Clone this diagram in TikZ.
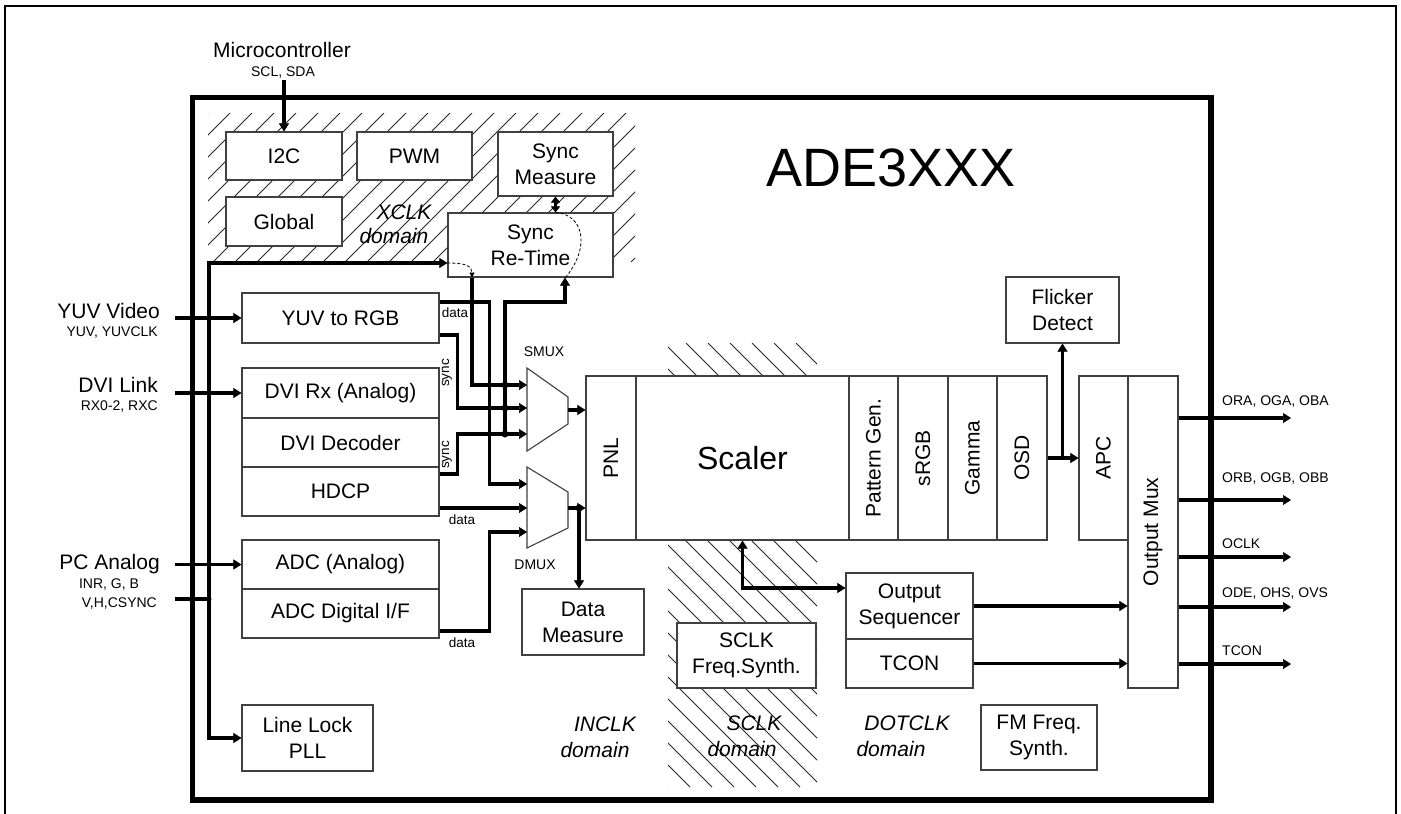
\documentclass[tikz,border=0pt]{standalone}
\usepackage{fontspec}
\setmainfont{Liberation Sans}
\usetikzlibrary{arrows.meta,calc}
\begin{document}
\begin{tikzpicture}[x=1pt,y=-1pt,
  >={Triangle[length=8pt,width=10pt,line width=0.5pt]},
  box/.style={draw=black!75, line width=1.1pt, fill=white, inner sep=0pt, align=center, font=\fontsize{21}{26}\selectfont},
  muxshape/.style={draw=black!75, line width=1.1pt, fill=white},
  wire/.style={line width=3.3pt},
  small/.style={font=\fontsize{14}{19}\selectfont, inner sep=0pt, align=center},
  tiny/.style={font=\fontsize{13.5}{16}\selectfont, inner sep=0pt},
  big/.style={font=\fontsize{21}{26}\selectfont, inner sep=0pt},
  dom/.style={font=\fontsize{21}{26}\selectfont\itshape, inner sep=0pt},
  hatch/.style={line width=0.9pt, black!85},
  dot/.style={circle, fill, inner sep=0pt, minimum size=7pt},
  dashline/.style={dashed, line width=0.8pt, dash pattern=on 3pt off 2pt}
]
\useasboundingbox (0,0) rectangle (1401,814);

% hatched clock domains
\begin{scope}
  \clip (208,113) rectangle (635,262);
  \foreach \i in {0,...,27} \draw[hatch] ({59+\i*22},262) -- ++(149,-149);
\end{scope}
\begin{scope}
  \clip (668,343) rectangle (817,787);
  \foreach \i in {0,...,28} \draw[hatch] ({202+\i*22},343) -- ++(444,444);
\end{scope}

% frames
\draw[line width=2pt] (5,814) -- (5,6) -- (1396,6) -- (1396,814);
\draw[line width=5.5pt] (192.5,97.5) rectangle (1211,800);

\node[font=\fontsize{54}{60}\selectfont, inner sep=0pt] (title) at (891,168) {ADE3XXX};

% XCLK boxes
\node[box, minimum width=116pt, minimum height=48pt] (i2c) at (284,156) {I2C};
\node[box, minimum width=115pt, minimum height=48pt] (pwm) at (414.5,156) {PWM};
\node[box, minimum width=115pt, minimum height=64pt] (syncm) at (555.5,164) {Sync\\Measure};
\node[box, minimum width=116pt, minimum height=49pt] (global) at (284,221.5) {Global};
\node[box, minimum width=165pt, minimum height=64pt] (syncrt) at (530.5,245) {Sync\\Re-Time};

% input blocks
\node[box, minimum width=197pt, minimum height=50pt] (yuv) at (340.5,318) {YUV to RGB};
\node[box, minimum width=197pt, minimum height=50pt] (dvirx) at (340.5,393) {DVI Rx (Analog)};
\node[box, minimum width=197pt, minimum height=49pt] (dvidec) at (340.5,442.5) {DVI Decoder};
\node[box, minimum width=197pt, minimum height=49pt] (hdcp) at (340.5,491.5) {HDCP};
\node[box, minimum width=197pt, minimum height=49pt] (adca) at (340.5,564.5) {ADC (Analog)};
\node[box, minimum width=197pt, minimum height=49pt] (adcd) at (340.5,613.5) {ADC Digital I/F};
\node[box, minimum width=131pt, minimum height=66pt] (llpll) at (307.5,738) {Line Lock\\PLL};
\node[box, minimum width=122pt, minimum height=66pt] (datam) at (583,622) {Data\\Measure};

% pipeline
\node[box, minimum width=50pt, minimum height=164pt] (pnl) at (611,458) {\rotatebox{90}{PNL}};
\node[box, minimum width=213pt, minimum height=164pt, font=\fontsize{32}{36}\selectfont] (scaler) at (742.5,458) {Scaler};
\node[box, minimum width=49pt, minimum height=164pt] (patgen) at (873.5,458) {\rotatebox{90}{Pattern Gen.}};
\node[box, minimum width=50pt, minimum height=164pt] (srgb) at (923,458) {\rotatebox{90}{sRGB}};
\node[box, minimum width=49pt, minimum height=164pt] (gamma) at (972.5,458) {\rotatebox{90}{Gamma}};
\node[box, minimum width=50pt, minimum height=164pt] (osd) at (1022,458) {\rotatebox{90}{OSD}};
\node[box, minimum width=49pt, minimum height=164pt] (apc) at (1103.5,458) {\rotatebox{90}{APC}};
\node[box, minimum width=50pt, minimum height=312pt] (omux) at (1153,532) {\rotatebox{90}{Output Mux}};
\node[box, minimum width=113pt, minimum height=66pt] (flicker) at (1062.5,310) {Flicker\\Detect};
\node[box, minimum width=127pt, minimum height=66pt] (outseq) at (909.5,606) {Output\\Sequencer};
\node[box, minimum width=127pt, minimum height=49pt] (tcon) at (909.5,663.5) {TCON};
\node[box, minimum width=139pt, minimum height=65pt] (sclkfs) at (746.5,655.5) {SCLK\\Freq.Synth.};
\node[box, minimum width=116pt, minimum height=65pt] (fmfs) at (1039,737.5) {FM Freq.\\Synth.};

% muxes
\draw[muxshape] (527,368) -- (568,397) -- (568,424) -- (527,451) -- cycle;
\draw[muxshape] (527,467) -- (568,492) -- (568,528) -- (527,548) -- cycle;
\coordinate (s1) at (527,385);
\coordinate (s2) at (527,408);
\coordinate (s3) at (527,434);
\coordinate (so) at (568,410);
\coordinate (d1) at (527,484);
\coordinate (d2) at (527,508);
\coordinate (d3) at (527,532);
\coordinate (do) at (568,508);
\node[small] (smuxl) at (544,352) {SMUX};
\node[small] (dmuxl) at (535,565) {DMUX};

% external labels
\node[big] (mcutxt) at (282,50) {Microcontroller};
\node[small] (scl) at (283,73) {SCL, SDA};
\coordinate (mcuin) at (284,80);
\draw[wire,->] (mcuin) -- (i2c.north);

\node[big, anchor=east] (yuvt) at (160,311) {YUV Video};
\node[small, anchor=east] (yuvs) at (158,333) {YUV, YUVCLK};
\node[big, anchor=east] (dvit) at (158,385) {DVI Link};
\node[small, anchor=east] (dvis) at (158,407) {RX0-2, RXC};
\node[big, anchor=east] (pct) at (160,564) {PC Analog};
\node[small] (pcs1) at (109,585) {INR, G, B};
\node[small, anchor=east] (pcs2) at (157,604) {V,H,CSYNC};

\coordinate (yuvin) at (175,318);
\coordinate (dviin) at (175,393);
\coordinate (pcin) at (175,564.5);
\coordinate (csin) at (175,599);
\coordinate (busT) at (209,263);
\coordinate (busB) at (209,738);
\node[dot, minimum size=5pt] (csdot) at (209,599) {};
\draw[wire,->] (yuvin) -- (yuv.west);
\draw[wire,->] (dviin) -- (dvirx.west);
\draw[wire,->] (pcin) -- (adca.west);
\draw[wire] (csin) -- (csdot.center);
\draw[wire,<->] ([yshift=-18pt]syncrt.west) -- (busT) -- (busB) -- (llpll.west);

% sync retime internals
\draw[wire,{Triangle[length=6pt,width=9pt,line width=0.5pt]}-{Triangle[length=6pt,width=9pt,line width=0.5pt]}] (syncm.south) -- (syncm.south |- syncrt.north);
\draw[dashline,-{Triangle[length=5pt,width=5pt]}] ([yshift=-18pt]syncrt.west) .. controls (466,263) and (472,266) .. ([xshift=-58.5pt]syncrt.south);
\draw[dashline] ([xshift=35pt]syncrt.south) .. controls (592,245) and (582,214) .. (syncm.south |- syncrt.north);

% mux wiring
\draw[wire,->] ([xshift=-58.5pt]syncrt.south) |- (s1);
\draw[wire,->] ([yshift=16pt]yuv.east) -- ++(50,0) |- (d1);
\draw[wire,->] ([yshift=-17pt]yuv.east) -- ++(18,0) |- (s2);
\draw[wire,->] ([yshift=17.5pt]hdcp.east) -- ++(18,0) |- (s3);
\draw[wire,->] ([yshift=-16.5pt]hdcp.east) -- (d2);
\draw[wire,->] ([yshift=-17.5pt]adcd.east) -- ++(50,0) |- (d3);
\node[dot] (t1) at (505,385) {};
\node[dot] (t2) at (505,408) {};
\node[dot] (t3) at (505,434) {};
\draw[wire,->] (t3.center) -- (505,302) -| ([xshift=34.5pt]syncrt.south);
\draw[wire,->] (so) -- (so -| pnl.west);
\draw[wire,->] (do) -- (do -| pnl.west);
\node[dot] (dmdot) at (579,508) {};
\draw[wire,->] (dmdot.center) -- (dmdot |- datam.north);

\node[tiny] (lb1) at (455,313) {data};
\node[tiny, rotate=90] (lb2) at (447,373) {sync};
\node[tiny, rotate=90] (lb3) at (447,455) {sync};
\node[tiny] (lb4) at (462,520) {data};
\node[tiny] (lb5) at (462,643) {data};

% right side
\draw[wire,<->] (scaler.south) |- ([yshift=18pt]outseq.west);
\draw[wire,->] (osd.east) -- (apc.west);
\draw[wire,->] (osd.east -| flicker.south) -- (flicker.south);
\draw[wire,->] (outseq.east) -- (outseq.east -| omux.west);
\draw[wire,->] (tcon.east) -- (tcon.east -| omux.west);

\foreach \y/\ly/\t [count=\i] in {418/402/{ORA, OGA, OBA}, 500/479/{ORB, OGB, OBB}, 557/544/{OCLK}, 607/594/{ODE, OHS, OVS}, 664/651/{TCON}} {
  \coordinate (o\i) at (1291,\y);
  \draw[wire,->] (omux.east |- o\i) -- (o\i);
  \node[small, anchor=west] (ol\i) at (1222,\ly) {\t};
}

% domain labels
\node[dom] (xc1) at (404,212) {XCLK};
\node[dom] (xc2) at (394,236) {domain};
\node[dom] (in1) at (605,724) {INCLK};
\node[dom] (in2) at (595,750) {domain};
\node[dom] (sc1) at (754,723) {SCLK};
\node[dom] (sc2) at (742,749) {domain};
\node[dom] (dc1) at (907,723) {DOTCLK};
\node[dom] (dc2) at (891,749) {domain};
\end{tikzpicture}
\end{document}
